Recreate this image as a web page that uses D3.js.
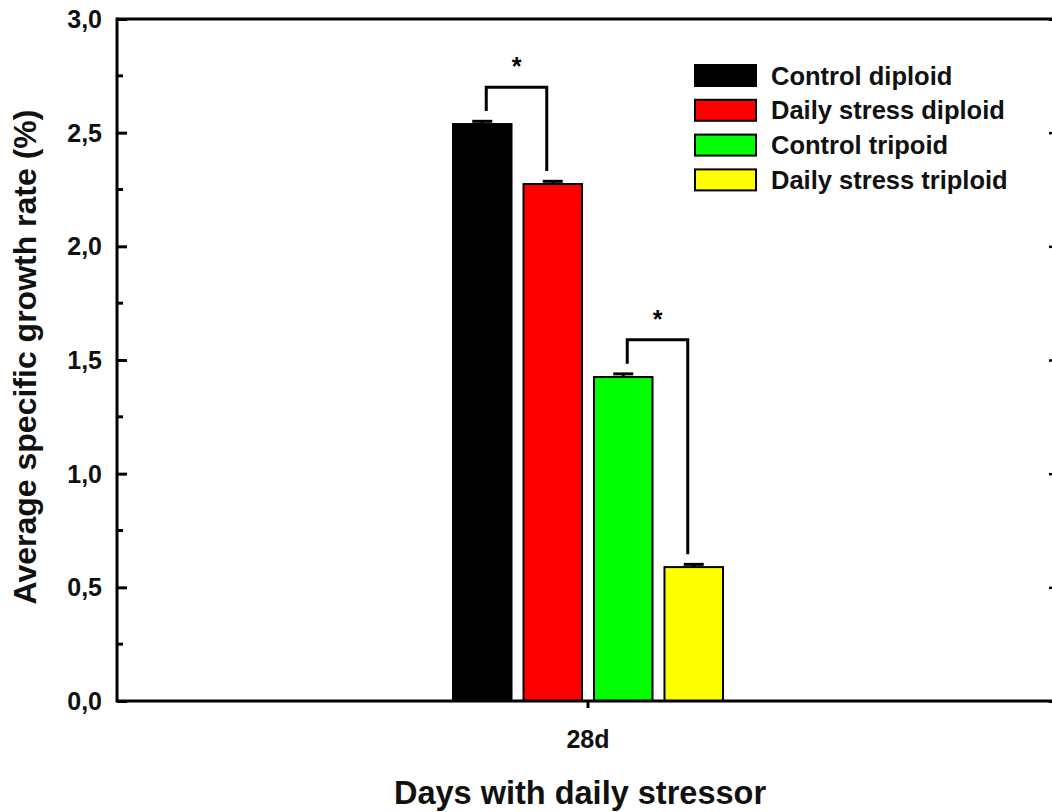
<!DOCTYPE html>
<html>
<head>
<meta charset="utf-8">
<script src="https://cdn.jsdelivr.net/npm/d3@7"></script>
<style>
  html, body { margin: 0; padding: 0; background: #fff; }
  svg { display: block; font-family: "Liberation Sans", Arial, sans-serif; font-weight: bold; }
</style>
</head>
<body>
<div id="root"></div>
<script>
const categories = ["28d"];
const series = ["Control diploid", "Daily stress diploid", "Control tripoid", "Daily stress triploid"];
const colors = ["#000000", "#ff0000", "#00ff00", "#ffff00"];
const values = [2.538, 2.274, 1.425, 0.589];
const errors = [0.012, 0.012, 0.014, 0.012];
const sigPairs = [[0, 1], [2, 3]];
const yTicks = [0, 0.5, 1.0, 1.5, 2.0, 2.5, 3.0];

const width = 1052, height = 812;
const margin = { top: 19, right: -7, bottom: 111, left: 117 };

const fmt = d3.formatLocale({ decimal: ",", thousands: ".", grouping: [3], currency: ["", ""] }).format(".1f");

const svg = d3.select("#root")
	.append("svg")
		.attr("width", width)
		.attr("height", height);

const y = d3.scaleLinear()
	.domain([0, 3])
	.range([height - margin.bottom, margin.top]);

const x = d3.scaleBand()
	.domain(categories)
	.range([margin.left, width - margin.right]);

const xs = d3.scaleBand()
	.domain(series)
	.range([453, 723])
	.paddingInner(0.17);

// bars
const bars = svg.append("g");

bars.selectAll("rect")
	.data(series)
	.enter()
	.append("rect")
		.attr("x", d => xs(d))
		.attr("y", (d, i) => y(values[i]))
		.attr("width", xs.bandwidth())
		.attr("height", (d, i) => y(0) - y(values[i]))
		.attr("fill", (d, i) => colors[i])
		.attr("stroke", "#000")
		.attr("stroke-width", 2);

// error bars
const errG = svg.append("g").attr("stroke", "#000").attr("stroke-width", 3);

errG.selectAll("line.err")
	.data(series)
	.enter()
	.append("line")
		.attr("class", "err")
		.attr("x1", d => xs(d) + xs.bandwidth() / 2)
		.attr("x2", d => xs(d) + xs.bandwidth() / 2)
		.attr("y1", (d, i) => y(values[i]))
		.attr("y2", (d, i) => y(values[i] + errors[i]));

errG.selectAll("line.cap")
	.data(series)
	.enter()
	.append("line")
		.attr("class", "cap")
		.attr("x1", d => xs(d) + xs.bandwidth() / 2 - 10)
		.attr("x2", d => xs(d) + xs.bandwidth() / 2 + 10)
		.attr("y1", (d, i) => y(values[i] + errors[i]))
		.attr("y2", (d, i) => y(values[i] + errors[i]));

// significance brackets
const sigG = svg.append("g");

sigPairs.forEach(([a, b]) => {
	const topA = values[a] + errors[a];
	const topB = values[b] + errors[b];
	const yTop = y(Math.max(topA, topB) + 0.15);
	const xa = xs(series[a]) + xs.bandwidth() / 2 + 4;
	const xb = xs(series[b]) + xs.bandwidth() / 2 - 6;

	sigG.append("path")
		.attr("d", `M${xa},${y(topA + 0.045)}V${yTop}H${xb}V${y(topB + 0.045)}`)
		.attr("fill", "none")
		.attr("stroke", "#000")
		.attr("stroke-width", 3);

	sigG.append("text")
		.attr("x", (xa + xb) / 2)
		.attr("y", yTop - 12)
		.attr("text-anchor", "middle")
		.style("font-size", "25px")
		.text("*");
});

// y axis (left)
const yAxis = svg.append("g")
	.attr("transform", `translate(${margin.left},0)`)
	.call(d3.axisRight(y).tickValues(yTicks).tickSize(10).tickFormat(""));

yAxis.select(".domain").remove();
yAxis.selectAll(".tick line").attr("stroke-width", 3);

yAxis.selectAll(".minor")
	.data(d3.range(0.25, 3, 0.5))
	.enter()
	.append("line")
		.attr("class", "minor")
		.attr("x1", 0)
		.attr("x2", 6)
		.attr("y1", d => y(d))
		.attr("y2", d => y(d))
		.attr("stroke", "#000")
		.attr("stroke-width", 3);

svg.append("g")
	.selectAll("text")
	.data(yTicks)
	.enter()
	.append("text")
		.attr("x", 102)
		.attr("y", d => y(d))
		.attr("dy", "0.36em")
		.attr("text-anchor", "end")
		.style("font-size", "25px")
		.style("fill", "#111")
		.text(d => fmt(d));

// right axis ticks
const rightAxis = svg.append("g")
	.attr("transform", `translate(${width - margin.right},0)`)
	.call(d3.axisLeft(y).tickValues(yTicks).tickSize(10).tickFormat(""));

rightAxis.select(".domain").attr("stroke-width", 3);
rightAxis.selectAll(".tick line").attr("stroke-width", 2.5);

// frame lines
svg.append("line")
	.attr("x1", margin.left).attr("x2", margin.left)
	.attr("y1", y(3) - 1.5).attr("y2", y(0) + 1.5)
	.attr("stroke", "#000").attr("stroke-width", 3);

svg.append("line")
	.attr("x1", margin.left).attr("x2", width + 10)
	.attr("y1", y(3)).attr("y2", y(3))
	.attr("stroke", "#000").attr("stroke-width", 3);

// x axis
const xAxis = svg.append("g")
	.attr("transform", `translate(0,${y(0)})`)
	.call(d3.axisBottom(x).tickSize(7).tickSizeOuter(0).tickPadding(22));

xAxis.select(".domain").attr("stroke-width", 3).attr("d", `M${margin.left},0H${width + 10}`);
xAxis.selectAll(".tick line").attr("stroke-width", 3);
xAxis.selectAll(".tick text")
	.style("font-size", "25px")
	.style("font-family", "'Liberation Sans', Arial, sans-serif")
	.style("font-weight", "bold")
	.attr("fill", "#111");

// legend
const legend = svg.append("g")
	.attr("transform", "translate(695,65)");

const items = legend.selectAll("g")
	.data(series)
	.enter()
	.append("g")
		.attr("transform", (d, i) => `translate(0,${i * 34.8})`);

items.append("rect")
	.attr("width", 61)
	.attr("height", 21)
	.attr("fill", (d, i) => colors[i])
	.attr("stroke", "#000")
	.attr("stroke-width", 2);

items.append("text")
	.attr("x", 76)
	.attr("y", 10.5)
	.attr("dy", "0.36em")
	.style("font-size", "25.5px")
	.style("fill", "#111")
	.text(d => d);

// axis titles
svg.append("text")
	.attr("transform", `translate(36,${(y(0) + y(3)) / 2 - 3}) rotate(-90)`)
	.attr("text-anchor", "middle")
	.style("font-size", "32px")
	.style("fill", "#111")
	.text("Average specific growth rate (%)");

svg.append("text")
	.attr("x", x(categories[0]) + x.bandwidth() / 2 - 8)
	.attr("y", 804)
	.attr("text-anchor", "middle")
	.style("font-size", "32.5px")
	.style("fill", "#111")
	.text("Days with daily stressor");
</script>
</body>
</html>
